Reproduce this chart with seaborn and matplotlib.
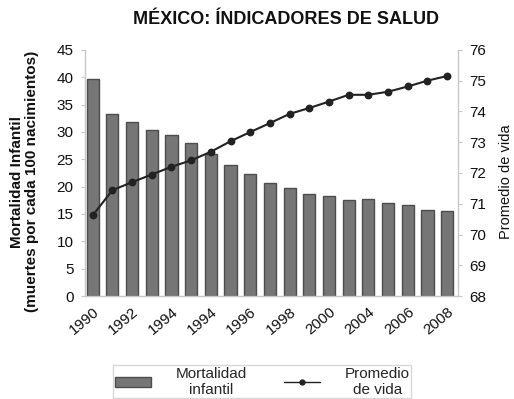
"""México: indicadores de salud - barras de mortalidad infantil y línea de promedio de vida."""

import matplotlib
matplotlib.use("Agg")
import matplotlib.pyplot as plt
from matplotlib.patches import Patch
from matplotlib.lines import Line2D
import pandas as pd
import seaborn as sns

years = list(range(1990, 2009))
mortalidad = [39.7, 33.3, 31.8, 30.4, 29.4, 27.9, 25.9, 24.0, 22.4, 20.6,
              19.7, 18.6, 18.3, 17.5, 17.8, 17.1, 16.6, 15.8, 15.5]
promedio_vida = [70.62, 71.44, 71.70, 71.95, 72.20, 72.41, 72.69, 73.03, 73.33, 73.62,
                 73.92, 74.11, 74.32, 74.54, 74.54, 74.64, 74.81, 75.00, 75.15]
# tick labels as printed in the original (every other bar)
xtick_labels = ["1990", "1992", "1994", "1994", "1996", "1998", "2000", "2004", "2006", "2008"]
left_ticks = [0, 5, 10, 15, 20, 25, 30, 35, 40, 45]
right_ticks = [68, 69, 70, 71, 72, 73, 74, 75, 76]

df = pd.DataFrame({"year": years, "mortalidad": mortalidad, "vida": promedio_vida})

sns.set_style("white")
plt.rcParams["font.family"] = ["Liberation Sans", "DejaVu Sans"]

fig = plt.figure(figsize=(5.14, 3.99), dpi=100)
ax = fig.add_axes([0.165, 0.258, 0.726, 0.617])

bar_color = "#767676"
edge_color = "#4d4d4d"
axis_gray = "#c8c8c8"

sns.barplot(data=df, x="year", y="mortalidad", color=bar_color, width=0.62,
            edgecolor=edge_color, linewidth=1.0, saturation=1, ax=ax)
ax.set_ylim(0, 45)
ax.set_xlim(-0.4, 18.55)
ax.set_yticks(left_ticks)
ax.set_xticks(range(0, len(years), 2))
ax.set_xticklabels(xtick_labels, rotation=40, ha="right", rotation_mode="anchor")
ax.set_xlabel("")
ax.set_ylabel("")

ax2 = ax.twinx()
sns.pointplot(data=df, x="year", y="vida", color="#222222", markers="o",
              markersize=4.5, linewidth=1.5, ax=ax2)
ax2.set_ylim(68, 76)
ax2.set_yticks(right_ticks)
ax2.set_ylabel("")
ax2.set_xlim(-0.4, 18.55)

for a in (ax, ax2):
    a.spines["top"].set_visible(False)
    for side in ("left", "right", "bottom"):
        a.spines[side].set_color(axis_gray)
        a.spines[side].set_linewidth(1.0)
    a.tick_params(axis="both", which="both", length=3, color=axis_gray,
                  labelsize=11, labelcolor="#111111", pad=5)
ax.tick_params(axis="x", pad=3)
ax.spines["right"].set_visible(False)
ax2.spines["left"].set_visible(False)
ax2.spines["bottom"].set_visible(False)

fig.text(0.556, 0.952, "MÉXICO: ÍNDICADORES DE SALUD", ha="center", va="center",
         fontsize=13, fontweight="bold", color="#111111")
fig.text(0.048, 0.545, "Mortalidad Infantil\n(muertes por cada 100 nacimientos)",
         rotation=90, ha="center", va="center", fontsize=11, fontweight="bold",
         linespacing=1.1, color="#111111")
fig.text(0.984, 0.545, "Promedio de vida", rotation=90, ha="center", va="center",
         fontsize=10.5, color="#111111")

handles = [Patch(facecolor=bar_color, edgecolor=edge_color),
           Line2D([0], [0], color="#222222", lw=1.0, marker="o", markersize=3.5)]
leg = fig.legend(handles, ["Mortalidad\ninfantil", "Promedio\nde vida"], ncol=2,
                 loc="center", bbox_to_anchor=(0.51, 0.043), fontsize=11,
                 frameon=True, fancybox=False, edgecolor="#cfcfcf",
                 handlelength=2.4, handletextpad=1.6, columnspacing=2.4,
                 borderpad=0.1, labelspacing=0.05)
for t in leg.get_texts():
    t.set_ha("center")

fig.savefig("out.png", dpi=100)
